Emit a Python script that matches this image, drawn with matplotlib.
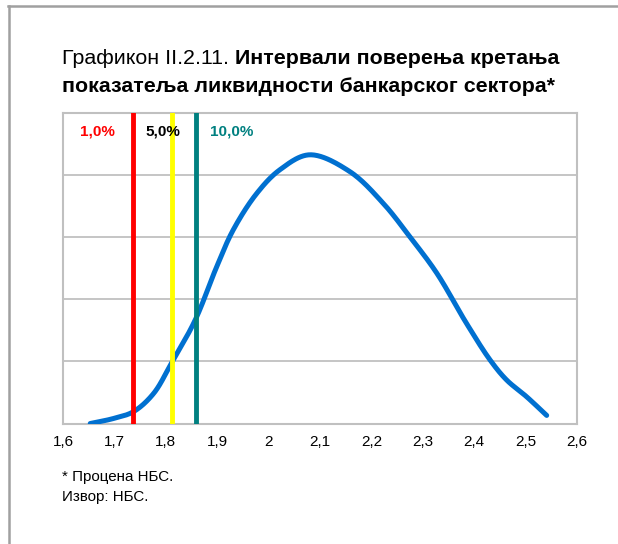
import matplotlib
matplotlib.use("Agg")
import matplotlib.pyplot as plt
from matplotlib.lines import Line2D
import numpy as np

plt.rcParams['font.family'] = ['Liberation Sans', 'DejaVu Sans']

# Density curve
curve_x = [1.653, 1.698, 1.737, 1.776, 1.811, 1.857, 1.899, 1.931, 1.977, 2.022,
           2.080, 2.158, 2.223, 2.275, 2.327, 2.385, 2.431, 2.463, 2.502, 2.541]
curve_y = [0.0, 0.08, 0.19, 0.48, 0.97, 1.66, 2.52, 3.11, 3.70, 4.08,
           4.32, 4.05, 3.54, 3.00, 2.42, 1.61, 1.02, 0.70, 0.43, 0.13]

# Confidence interval lines
ci_labels = ["1,0%", "5,0%", "10,0%"]
ci_x = [1.737, 1.813, 1.858]
ci_colors = ["#ff0000", "#ffff00", "#008080"]
ci_label_x = [1.633, 1.760, 1.886]
ci_label_colors = ["#ff0000", "#000000", "#008080"]

xticks = [1.6, 1.7, 1.8, 1.9, 2.0, 2.1, 2.2, 2.3, 2.4, 2.5, 2.6]
xtick_labels = ["1,6", "1,7", "1,8", "1,9", "2", "2,1", "2,2", "2,3", "2,4", "2,5", "2,6"]

W, H = 618, 544
fig = plt.figure(figsize=(W / 100, H / 100), dpi=100)

# Outer frame (top and left only visible)
fig.add_artist(Line2D([8 / W, 1], [1 - 6 / H, 1 - 6 / H], color="#a0a0a0", lw=1.8))
fig.add_artist(Line2D([8.5 / W, 8.5 / W], [0, 1 - 6 / H], color="#a0a0a0", lw=1.8))

left, right, top, bottom = 63, 577, 112.5, 423.5
ax = fig.add_axes([left / W, 1 - bottom / H, (right - left) / W, (bottom - top) / H])

# Smooth curve through read points (centripetal Catmull-Rom in pixel-like space)
sxs, sys_ = 514.0, 62.1
P = np.column_stack([np.array(curve_x) * sxs, np.array(curve_y) * sys_])
Pext = np.vstack([P[0] * 2 - P[1], P, P[-1] * 2 - P[-2]])
out = []
for i in range(1, len(Pext) - 2):
    p0, p1, p2, p3 = Pext[i - 1], Pext[i], Pext[i + 1], Pext[i + 2]
    t0 = 0.0
    t1 = t0 + np.linalg.norm(p1 - p0) ** 0.5
    t2 = t1 + np.linalg.norm(p2 - p1) ** 0.5
    t3 = t2 + np.linalg.norm(p3 - p2) ** 0.5
    for t in np.linspace(t1, t2, 25, endpoint=False):
        a1 = (t1 - t) / (t1 - t0) * p0 + (t - t0) / (t1 - t0) * p1
        a2 = (t2 - t) / (t2 - t1) * p1 + (t - t1) / (t2 - t1) * p2
        a3 = (t3 - t) / (t3 - t2) * p2 + (t - t2) / (t3 - t2) * p3
        b1 = (t2 - t) / (t2 - t0) * a1 + (t - t0) / (t2 - t0) * a2
        b2 = (t3 - t) / (t3 - t1) * a2 + (t - t1) / (t3 - t1) * a3
        c = (t2 - t) / (t2 - t1) * b1 + (t - t1) / (t2 - t1) * b2
        out.append(c)
out.append(P[-1])
out = np.array(out)
ax.plot(out[:, 0] / sxs, out[:, 1] / sys_, color="#0070d0", lw=3.6,
        solid_capstyle="round", zorder=3)

for xv, c in zip(ci_x, ci_colors):
    ax.axvline(xv, color=c, lw=3.5, zorder=4)

for lab, xv, c in zip(ci_labels, ci_label_x, ci_label_colors):
    ax.text(xv, 4.7, lab, color=c, fontsize=11, fontweight="bold", ha="left", va="center", zorder=5)

ax.set_xlim(1.6, 2.6)
ax.set_ylim(0, 5)
ax.set_yticks([0, 1, 2, 3, 4, 5])
ax.set_yticklabels([])
ax.tick_params(axis="y", length=0)
ax.grid(axis="y", color="#c0c0c0", lw=1.3)
ax.set_axisbelow(True)
ax.set_xticks(xticks)
ax.set_xticklabels(xtick_labels, fontsize=11)
ax.tick_params(axis="x", length=0, pad=8)
for s in ax.spines.values():
    s.set_color("#c0c0c0")
    s.set_linewidth(1.5)

# Title
fs_title = 15.4
t1 = fig.text(62 / W, 1 - 58 / H, "Графикон II.2.11. ", fontsize=fs_title, ha="left", va="center")
fig.canvas.draw()
bb = t1.get_window_extent()
fig.text(bb.x1 / W, 1 - 58 / H, "Интервали поверења кретања", fontsize=fs_title, fontweight="bold",
         ha="left", va="center")
fig.text(62 / W, 1 - 86 / H, "показатеља ликвидности банкарског сектора*", fontsize=fs_title,
         fontweight="bold", ha="left", va="center")

fig.text(62 / W, 1 - 477 / H, "* Процена НБС.", fontsize=10.9, ha="left", va="center")
fig.text(62 / W, 1 - 497 / H, "Извор: НБС.", fontsize=10.9, ha="left", va="center")

fig.savefig("out.png", dpi=100)
